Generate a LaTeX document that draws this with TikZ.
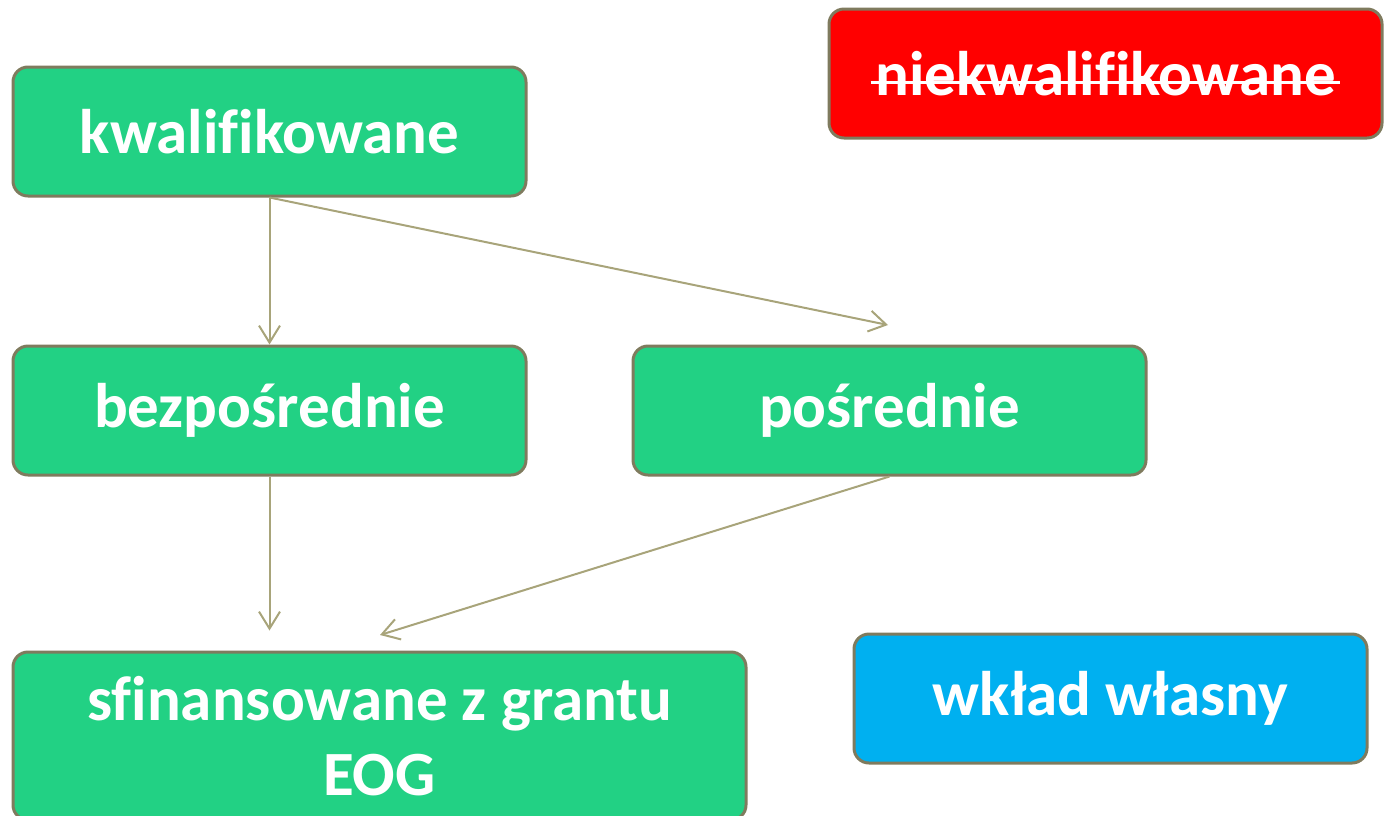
\documentclass[tikz,border=0pt]{standalone}
\usepackage{fontspec}
\setmainfont{Carlito}[RawFeature={-liga}]
\usetikzlibrary{arrows.meta}
\definecolor{boxgreen}{HTML}{22D184}
\definecolor{boxred}{HTML}{FF0000}
\definecolor{boxblue}{HTML}{00B0F0}
\definecolor{boxline}{HTML}{7F7B5E}
\definecolor{arrowline}{HTML}{A8A47A}

\begin{document}
\begin{tikzpicture}[x=0.5pt, y=-0.5pt,
        box/.style={draw=boxline, line width=1.5pt, rounded corners=7.5pt,
            minimum width=256.5pt, minimum height=64.5pt, text=white, align=center,
            font=\fontsize{31.5}{37.5}\selectfont\bfseries},
        link/.style={draw=arrowline, line width=1pt, -{Straight Barb[length=8.5pt, width=10.5pt]}}]
        \useasboundingbox (0,0) rectangle (1385,815);

        \node [box, fill=boxgreen] (1) at (269.5, 131.5) {kwalifikowane};
        \node [box, fill=boxred, minimum width=276.5pt] (2) at (1105.5, 73.5) {niekwalifikowane};
        \node [box, fill=boxgreen] (3) at (269.5, 410.5) {bezpośrednie};
        \node [box, fill=boxgreen] (4) at (889.5, 410.5) {pośrednie};
        \node [box, fill=boxgreen, minimum width=366.5pt, minimum height=84pt] (5) at (379.5, 736) {sfinansowane z grantu\\EOG};
        \node [box, fill=boxblue] (6) at (1110.5, 698.5) {wkład własny};

        % strike through the red label
        \draw [white, line width=1.5pt] ([xshift=-117.5pt, yshift=-4.25pt]2.center) -- ([xshift=117pt, yshift=-4.25pt]2.center);

        \coordinate (a) at (888, 325);
        \coordinate (b) at (380, 635);

        \draw [link] (1.south) -- (3.north);
        \draw [link] (1.south) -- (a);
        \draw [link, shorten >=10pt] (3.south) -- (3.south |- 5.north);
        \draw [link] (4.south) -- (b);
    \end{tikzpicture}
\end{document}
